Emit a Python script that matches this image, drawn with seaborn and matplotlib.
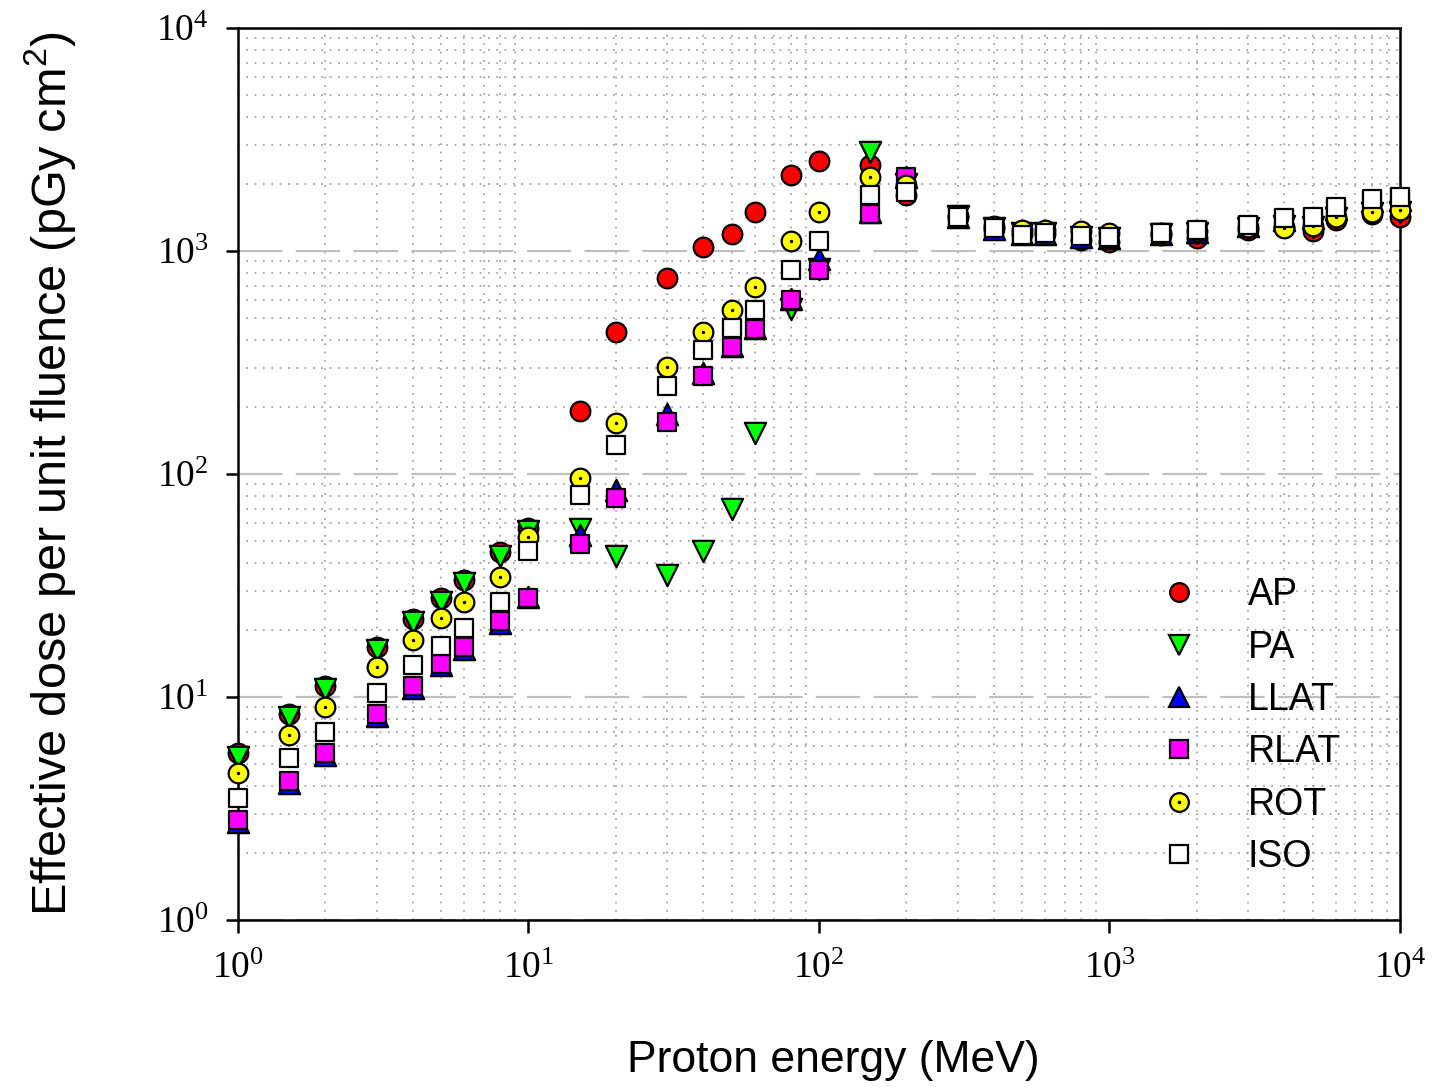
import numpy as np
import matplotlib
matplotlib.use('Agg')
import matplotlib.pyplot as plt
import seaborn as sns
from matplotlib.lines import Line2D

# proton energy (MeV) and effective dose per unit fluence (pGy cm2)
energy = [1, 1.5, 2, 3, 4, 5, 6, 8, 10, 15, 20, 30, 40, 50, 60, 80, 100,
          150, 200, 300, 400, 500, 600, 800, 1000, 1500, 2000, 3000, 4000,
          5000, 6000, 8000, 10000]

ap = [5.6, 8.4, 11.2, 16.8, 22.3, 27.8, 33.5, 44.5, 57, 192, 433, 757, 1040,
      1190, 1500, 2200, 2530, 2440, 1780, 1430, 1260, 1190, 1190, 1120, 1100,
      1180, 1140, 1240, 1280, 1230, 1380, 1470, 1420]
pa = [5.4, 8.1, 10.9, 16.2, 21.7, 26.7, 32.4, 43, 55.5, 56.7, 43, 35.3, 45,
      70, 153, 550, 830, 2790, 2000, 1430, 1270, 1200, 1200, 1160, 1140, 1190,
      1210, 1270, 1300, 1280, 1400, 1480, 1500]
llat = [2.75, 4.1, 5.5, 8.2, 11.0, 13.9, 16.5, 21.5, 28, 53, 85, 185, 285,
        375, 450, 610, 920, 1500, 2150, 1420, 1260, 1190, 1190, 1160, 1140,
        1190, 1220, 1290, 1380, 1400, 1540, 1680, 1700]
rlat = [2.81, 4.2, 5.6, 8.4, 11.2, 14.1, 16.8, 21.9, 27.8, 48.5, 78, 171, 275,
        371, 447, 600, 820, 1470, 2150, 1420, 1265, 1185, 1200, 1165, 1145,
        1200, 1235, 1300, 1390, 1410, 1560, 1700, 1730]
rot = [4.56, 6.76, 9.0, 13.6, 18.0, 22.6, 26.7, 34.4, 52, 96, 169, 302, 433,
       544, 690, 1110, 1500, 2140, 1970, 1420, 1300, 1240, 1240, 1230, 1210,
       1200, 1230, 1280, 1270, 1290, 1420, 1500, 1520]
iso = [3.52, 5.3, 6.97, 10.4, 13.9, 16.9, 20.4, 26.6, 45, 80.5, 135, 248, 360,
       452, 544, 820, 1110, 1780, 1830, 1420, 1268, 1180, 1206, 1168, 1150,
       1206, 1243, 1309, 1407, 1420, 1574, 1719, 1746]

labels = ['AP', 'PA', 'LLAT', 'RLAT', 'ROT', 'ISO']
values = [ap, pa, llat, rlat, rot, iso]
markers = ['o', 'v', '^', 's', 'o', 's']
colors = ['#ff0000', '#00ff00', '#0000ff', '#ff00ff', '#ffff00', '#ffffff']
sizes = [200, 235, 235, 185, 200, 185]

sns.set_style('white')
plt.rcParams['font.family'] = ['Liberation Sans', 'DejaVu Sans']
plt.rcParams['text.color'] = 'black'
plt.rcParams['axes.labelcolor'] = 'black'
plt.rcParams['xtick.color'] = 'black'
plt.rcParams['ytick.color'] = 'black'

fig = plt.figure(figsize=(14.34, 10.87), dpi=100)
ax = fig.add_axes([238 / 1434, 1 - 920 / 1087, 1162 / 1434, 892 / 1087])
ax.set_xscale('log')
ax.set_yscale('log')

for i, (lab, vals, mk, col, sz) in enumerate(zip(labels, values, markers, colors, sizes)):
    sns.scatterplot(x=energy, y=vals, marker=mk, color=col, s=sz,
                    edgecolor='black', linewidth=1.6, ax=ax, zorder=3 + i,
                    clip_on=False, legend=False)
    if lab == 'ROT':
        sns.scatterplot(x=energy, y=vals, marker='o', color='black', s=6,
                        linewidth=0, ax=ax, zorder=3 + i, clip_on=False,
                        legend=False)

ax.set_xlim(1, 1e4)
ax.set_ylim(1, 1e4)

ticks = [1, 10, 100, 1000, 10000]
tick_labels = [r'$\mathregular{10^{%d}}$' % k for k in range(5)]
ax.set_xticks(ticks)
ax.set_xticklabels(tick_labels, fontfamily='Liberation Serif', fontsize=27)
ax.set_yticks(ticks)
ax.set_yticklabels(tick_labels, fontfamily='Liberation Serif', fontsize=27)
ax.tick_params(which='major', direction='out', length=9, width=1.8,
               color='black', bottom=True, left=True, top=False, right=False)
ax.tick_params(axis='x', which='major', pad=14)
ax.tick_params(axis='y', which='major', pad=12)
ax.tick_params(which='minor', length=0)

ax.grid(False)
ax.grid(which='minor', axis='both', linestyle=(0, (1, 4)), color='#999999', linewidth=1.2)
ax.yaxis.grid(True, which='major', linestyle=(0, (20, 6)), color='#c0c0c0', linewidth=1.6)
ax.set_axisbelow(True)

for sp in ax.spines.values():
    sp.set_visible(True)
    sp.set_color('black')
    sp.set_linewidth(1.8)

ax.set_xlabel('Proton energy (MeV)', fontsize=32)
ax.set_ylabel(r'Effective dose per unit fluence (pGy cm$\mathregular{^2}$)', fontsize=35)
ax.xaxis.set_label_coords(0.512, -0.134)
ax.yaxis.set_label_coords(-0.138, 0.5)

handles = []
for lab, mk, col in zip(labels, markers, colors):
    ms = 13.5 if mk in ('o', 's') else 14.5
    h = Line2D([], [], linestyle='none', marker=mk, markersize=ms,
               markerfacecolor=col, markeredgecolor='black', markeredgewidth=1.6)
    if lab == 'ROT':
        dot = Line2D([], [], linestyle='none', marker='o', markersize=2.6,
                     markerfacecolor='black', markeredgewidth=0)
        h = (h, dot)
    handles.append(h)

ax.legend(handles, labels, loc='upper left', bbox_to_anchor=(0.794, 0.384),
          frameon=False, fontsize=27, handlelength=1.0, handletextpad=1.32,
          labelspacing=0.435, borderpad=0, borderaxespad=0)

fig.savefig('out.png', dpi=100)
